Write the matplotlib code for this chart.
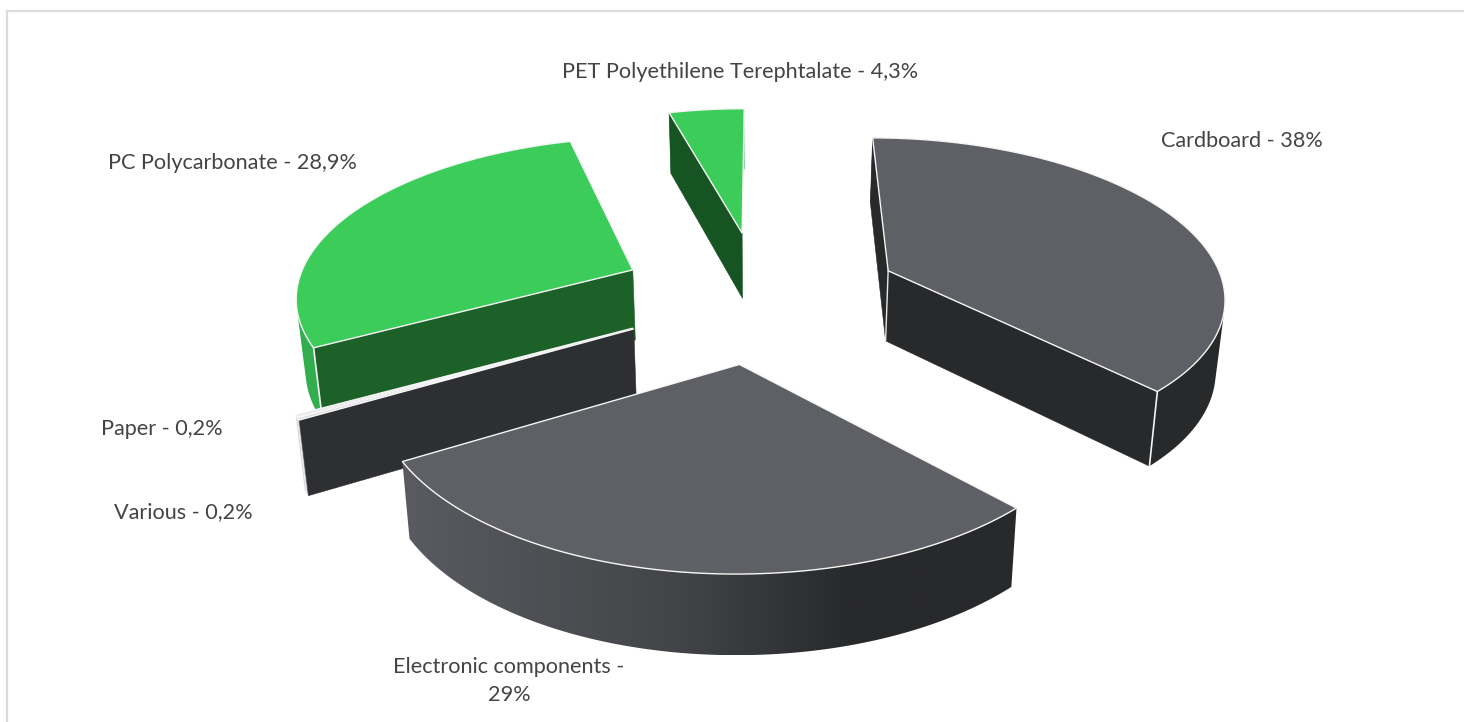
import numpy as np
import matplotlib
matplotlib.use("Agg")
import matplotlib.pyplot as plt
from matplotlib.patches import Polygon, Rectangle
from matplotlib.colors import LinearSegmentedColormap

# ---- data (clockwise from 12 o'clock) ----
categories = ["Cardboard", "Electronic components", "Various", "Paper",
              "PC Polycarbonate", "PET Polyethilene Terephtalate"]
values = [38, 29, 0.2, 0.2, 28.9, 4.3]
value_labels = ["38%", "29%", "0,2%", "0,2%", "28,9%", "4,3%"]

# ---- style ----
top_colors = ["#5F6065", "#5F6065", "#D8D8D8", "#E4E4E4", "#3CCC5A", "#3CCC5A"]
cut_colors = ["#28292B", "#28292B", "#2E2F32", "#2E2F32", "#1C6128", "#175424"]
rim_colors = ["#28292B", None, "#D0D0D0", "#D8D8D8", "#33AE4E", "#33AE4E"]
cut_start = [True, False, True, False, True, True]
cut_end = [True, False, False, False, False, False]
white_start = [False, False, False, False, True, False]
white_end = [True, False, False, False, False, False]
height_scale = [1, 1, 1, 1, 1, 0.95]
draw_order = [5, 4, 0, 2, 3, 1]
label_pos = [(1242, 141, "center"), (509, 681, "center"), (183, 512, "center"),
             (162, 429, "center"), (232, 163, "center"), (740, 72, "center")]

CX, CY, R0, SY, P, EXPLODE, H, CONV = 760, 295, 338, 158, 0.141, 0.418, 71, 0.98

plt.rcParams["font.family"] = ["Lato", "DejaVu Sans"]
fig = plt.figure(figsize=(14.64, 7.22), dpi=100, facecolor="white")
ax = fig.add_axes([0, 0, 1, 1])
ax.set_xlim(0, 1464)
ax.set_ylim(722, 0)
ax.axis("off")

# frame of the chart area
ax.add_patch(Rectangle((7, 11), 1500, 1000, fc="white", ec="#DCDCDC", lw=1.6, zorder=0))

gradient = LinearSegmentedColormap.from_list(
    "rim", [(0, "#5A5B60"), (0.45, "#434448"), (0.73, "#28292B"), (1, "#28292B")])


def project(x, y, z=0.0, scale=1.0):
    """Perspective from disc coordinates to the pixel scale of the axes."""
    w = 1 + P * y
    sx = CX + R0 * x / w
    sy = CY - SY * y / w
    if z:
        sx = CX + (sx - CX) * CONV
        sy = sy + scale * H / w ** 0.6
    return sx, sy


def hull(points):
    """Convex outline of the wall: its hidden part lies under the later faces."""
    pts = sorted(map(tuple, points))

    def half(seq):
        out = []
        for p in seq:
            while len(out) > 1 and ((out[-1][0] - out[-2][0]) * (p[1] - out[-2][1])
                                    - (out[-1][1] - out[-2][1]) * (p[0] - out[-2][0])) <= 0:
                out.pop()
            out.append(p)
        return out[:-1]

    return np.array(half(pts) + half(pts[::-1]))


fractions = np.array(values) / np.sum(values)
edges = np.concatenate([[0], np.cumsum(fractions)]) * 2 * np.pi
z = 1


def draw_slice(i):
    global z
    a, b = edges[i], edges[i + 1]
    mid = (a + b) / 2
    ox, oy = EXPLODE * np.sin(mid), EXPLODE * np.cos(mid)
    th = np.linspace(a, b, max(int(np.degrees(b - a)), 2) + 1)
    xs, ys = ox + np.sin(th), oy + np.cos(th)
    s = height_scale[i]
    top = np.array([project(x, y) for x, y in zip(xs, ys)])
    bot = np.array([project(x, y, 1, s) for x, y in zip(xs, ys)])
    apex_t = np.array(project(ox, oy))
    apex_b = np.array(project(ox, oy, 1, s))

    # outer wall
    wall = np.vstack([top, bot[::-1]])
    if rim_colors[i] is None:
        x0, x1 = wall[:, 0].min(), wall[:, 0].max()
        y0, y1 = wall[:, 1].min(), wall[:, 1].max()
        im = ax.imshow(np.linspace(0, 1, 256).reshape(1, -1), cmap=gradient, aspect="auto",
                       extent=(x0, x1, y1, y0), vmin=0, vmax=1, zorder=z)
        im.set_clip_path(Polygon(wall, transform=ax.transData))
        ax.set_xlim(0, 1464)
        ax.set_ylim(722, 0)
    else:
        ax.add_patch(Polygon(hull(wall), fc=rim_colors[i], ec="none", zorder=z))
    z += 1

    # cut faces
    if cut_start[i]:
        ax.add_patch(Polygon([apex_t, top[0], bot[0], apex_b], fc=cut_colors[i],
                             ec=cut_colors[i], lw=0.4, zorder=z))
    if cut_end[i]:
        ax.add_patch(Polygon([apex_t, top[-1], bot[-1], apex_b], fc=cut_colors[i],
                             ec=cut_colors[i], lw=0.4, zorder=z))
    z += 1

    # vertical white edges
    if white_start[i]:
        ax.plot([top[0, 0], bot[0, 0]], [top[0, 1], bot[0, 1]], color="#F4F4F4", lw=1.2, zorder=z)
    if white_end[i]:
        ax.plot([top[-1, 0], bot[-1, 0]], [top[-1, 1], bot[-1, 1]], color="#F4F4F4", lw=1.2, zorder=z)
    if cut_start[i] and cut_end[i]:
        ax.plot([apex_t[0], apex_b[0]], [apex_t[1], apex_b[1]], color="#E8E8E8", lw=1.0, zorder=z)

    # top face with white outline
    outline = np.vstack([apex_t, top])
    ax.add_patch(Polygon(outline, closed=True, fc=top_colors[i], ec="#F6F6F6", lw=1.0,
                         joinstyle="miter", zorder=z + 1))
    z += 2


for i in draw_order:
    draw_slice(i)

for name, val, (x, y, ha) in zip(categories, value_labels, label_pos):
    text = f"{name} - {val}"
    if name.startswith("Electronic"):
        text = f"{name} -\n{val}"
    ax.text(x, y, text, ha=ha, va="center", fontsize=15.6, color="#444444",
            linespacing=1.45, zorder=z + 5)

fig.savefig("out.png", dpi=100, facecolor="white")
